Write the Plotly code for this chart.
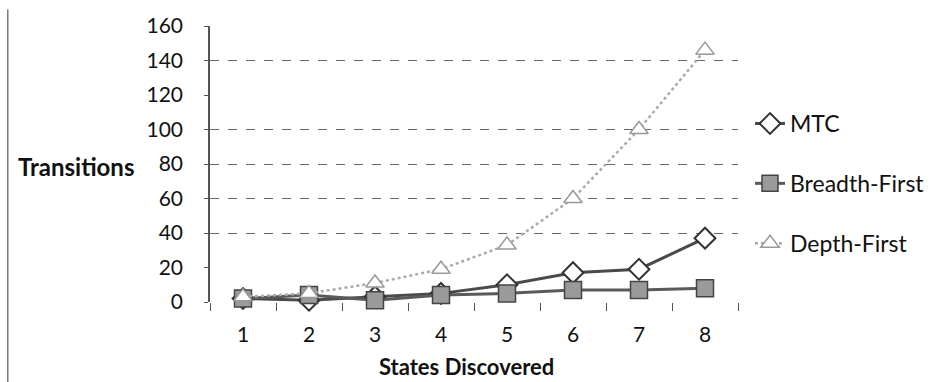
import plotly.graph_objects as go

states = ["1", "2", "3", "4", "5", "6", "7", "8"]
mtc = [2, 1, 3, 5, 10, 17, 19, 37]
breadth_first = [2, 4, 1, 4, 5, 7, 7, 8]
depth_first = [3, 5, 11, 19, 33, 60, 100, 146]
y_ticks = [0, 20, 40, 60, 80, 100, 120, 140, 160]
grid_vals = [40, 60, 80, 100, 140]

FONT = "Lato, Calibri, 'Noto Sans', sans-serif"

fig = go.Figure()

fig.add_trace(go.Scatter(
    x=states, y=mtc, name="MTC", mode="lines+markers", legendgroup="a",
    line=dict(color="#4a4a4a", width=3),
    marker=dict(symbol="diamond", size=16, color="white", line=dict(color="#333", width=2)),
    cliponaxis=False,
))
fig.add_trace(go.Scatter(
    x=states, y=breadth_first, name="Breadth-First", mode="lines+markers", legendgroup="b",
    line=dict(color="#5a5a5a", width=3),
    marker=dict(symbol="square", size=17, color="#9a9a9a", line=dict(color="#444", width=1.5)),
    cliponaxis=False,
))
fig.add_trace(go.Scatter(
    x=states, y=depth_first, name="Depth-First", mode="lines+markers", legendgroup="c",
    line=dict(color="#aaaaaa", width=2.5, dash="dot"),
    marker=dict(symbol="triangle-up", size=16, color="white", line=dict(color="#999", width=1.5)),
    cliponaxis=False,
))

# helper trace for the partial gridlines on a secondary y axis
fig.add_trace(go.Scatter(x=states, y=[None] * len(states), yaxis="y2",
                         showlegend=False, hoverinfo="skip"))

fig.update_layout(
    width=934, height=382,
    margin=dict(l=210, r=192, t=26, b=80),
    paper_bgcolor="white", plot_bgcolor="white",
    font=dict(family=FONT, size=21, color="#111"),
    xaxis=dict(
        type="category", range=[-0.5, 7.5],
        showgrid=False, showline=False, zeroline=False,
        ticks="outside", tickson="boundaries", ticklen=8, tickcolor="#555", tickwidth=1,
        ticklabelstandoff=18,
    ),
    yaxis=dict(
        range=[0, 160], tickvals=y_ticks, showgrid=False, zeroline=False,
        showline=True, linecolor="#555", linewidth=1.5,
        ticks="outside", ticklen=4, tickcolor="#555",
        ticklabelstandoff=17,
    ),
    yaxis2=dict(
        range=[0, 160], overlaying="y", tickvals=grid_vals, showticklabels=False,
        showgrid=True, gridcolor="#666", griddash="dash", gridwidth=1,
        zeroline=False, showline=False,
    ),
    legend=dict(
        xref="container", yref="container",
        x=750 / 934, xanchor="left", y=1 - 102 / 382, yanchor="top",
        tracegroupgap=27, font=dict(size=23), bgcolor="rgba(0,0,0,0)",
    ),
    showlegend=True,
    annotations=[
        dict(text="<b>Transitions</b>", xref="paper", yref="paper",
             x=-0.367, xanchor="left", y=0.49, yanchor="middle",
             showarrow=False, font=dict(size=24)),
        dict(text="<b>States Discovered</b>", xref="paper", yref="paper",
             x=0.485, xanchor="center", y=-0.235, yanchor="middle",
             showarrow=False, font=dict(size=22)),
    ],
    shapes=[
        dict(type="line", xref="paper", yref="paper",
             x0=-0.383, x1=-0.383, y0=1.06, y1=-0.30,
             line=dict(color="#777", width=1.5)),
    ],
)

fig.write_html("out.html", config={"displayModeBar": False},
               post_script="document.body.style.margin='0';")
